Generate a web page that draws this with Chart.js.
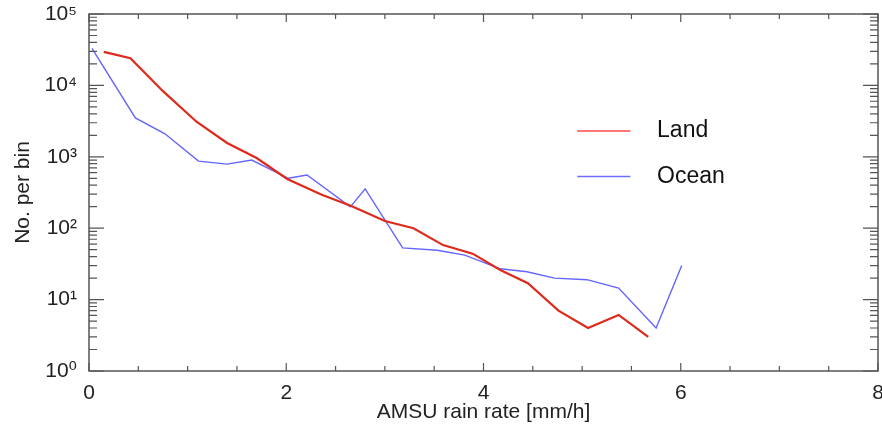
<!DOCTYPE html>
<html>
<head>
<meta charset="utf-8">
<script src="https://cdn.jsdelivr.net/npm/chart.js@4/dist/chart.umd.min.js"></script>
<style>
  html, body { margin: 0; padding: 0; background: #fff; overflow: hidden; }
  #wrap { width: 882px; height: 431px; }
</style>
</head>
<body>
<div id="wrap"><canvas id="c" width="882" height="431"></canvas></div>
<script>
// ---- data ----
const landX  = [0.15, 0.42, 0.75, 1.09, 1.40, 1.70, 2.01, 2.36, 2.66, 3.00, 3.29, 3.59, 3.89, 4.17, 4.45, 4.76, 5.06, 5.37, 5.67];
const landY  = [29500, 24000, 8300, 3100, 1560, 960, 490, 295, 204, 126, 100, 58, 44, 26, 17, 7, 4, 6.1, 3];
const oceanX = [0.03, 0.47, 0.77, 1.11, 1.40, 1.65, 2.02, 2.21, 2.65, 2.80, 3.18, 3.53, 3.81, 4.17, 4.44, 4.72, 5.05, 5.37, 5.75, 6.01];
const oceanY = [33000, 3500, 2100, 870, 790, 900, 500, 556, 199, 355, 53, 49, 42, 27, 24.5, 20, 19, 14.5, 4, 30];
const xTicks = [0, 2, 4, 6, 8];
const yTicks = [1, 10, 100, 1000, 10000, 100000];
const seriesNames = ['Land', 'Ocean'];
const xTitle = 'AMSU rain rate [mm/h]';
const yTitle = 'No. per bin';

const sup = {'0':'⁰','1':'¹','2':'²','3':'³','4':'⁴','5':'⁵','6':'⁶','7':'⁷','8':'⁸','9':'⁹'};
const FONT = "'Liberation Sans', Arial, 'DejaVu Sans', sans-serif";

const toPts = (xs, ys) => xs.map((x, i) => ({x: x, y: ys[i]}));

const frameTicks = {
  id: 'frameTicks',
  afterDraw(chart) {
    const {ctx, chartArea: a, scales: {x, y}} = chart;
    ctx.save();
    ctx.strokeStyle = '#555';
    ctx.lineWidth = 1.5;
    ctx.strokeRect(a.left, a.top, a.right - a.left, a.bottom - a.top);
    ctx.lineWidth = 1.2;
    ctx.beginPath();
    // x ticks (bottom and top), major every 2, minor every 0.5
    for (let v = 0; v <= 8.0001; v += 0.5) {
      const px = x.getPixelForValue(v);
      const len = (Math.abs(v / 2 - Math.round(v / 2)) < 1e-6) ? 8 : 5;
      ctx.moveTo(px, a.bottom); ctx.lineTo(px, a.bottom - len);
      ctx.moveTo(px, a.top); ctx.lineTo(px, a.top + len);
    }
    // y ticks (left and right)
    for (let d = 0; d <= 5; d++) {
      for (let m = 1; m <= 9; m++) {
        const v = m * Math.pow(10, d);
        if (v > 100000) break;
        const py = y.getPixelForValue(v);
        const len = m === 1 ? 15 : 8;
        ctx.moveTo(a.left, py); ctx.lineTo(a.left + len, py);
        ctx.moveTo(a.right, py); ctx.lineTo(a.right - len, py);
      }
    }
    ctx.stroke();

    // legend inside the plot
    const colors = ['#ff7777', '#6f6fff'];
    const widths = [2, 1.3];
    const yVals = [2300, 530];
    ctx.font = '23px ' + FONT;
    ctx.textBaseline = 'middle';
    ctx.fillStyle = '#111';
    seriesNames.forEach((name, i) => {
      const py = y.getPixelForValue(yVals[i]);
      const x0 = x.getPixelForValue(4.95), x1 = x.getPixelForValue(5.49);
      ctx.strokeStyle = colors[i];
      ctx.lineWidth = widths[i];
      ctx.beginPath(); ctx.moveTo(x0, py); ctx.lineTo(x1, py); ctx.stroke();
      ctx.fillText(name, x.getPixelForValue(5.76), py);
    });
    ctx.restore();
  }
};

new Chart(document.getElementById('c'), {
  type: 'line',
  data: {
    datasets: [
      { label: seriesNames[0], data: toPts(landX, landY), borderColor: '#dd2a1a', borderWidth: 2.2, pointRadius: 0, tension: 0, fill: false },
      { label: seriesNames[1], data: toPts(oceanX, oceanY), borderColor: '#6464ff', borderWidth: 1.4, pointRadius: 0, tension: 0, fill: false }
    ]
  },
  options: {
    responsive: false,
    animation: false,
    devicePixelRatio: 1,
    layout: { padding: { left: 0, right: 4, top: 14, bottom: 0 } },
    plugins: { legend: { display: false }, tooltip: { enabled: false } },
    scales: {
      x: {
        type: 'linear', min: 0, max: 8,
        afterBuildTicks: s => { s.ticks = xTicks.map(v => ({value: v})); },
        afterFit: s => { s.height = 60; s.paddingLeft = 0; s.paddingRight = 0; },
        grid: { display: false }, border: { display: false },
        ticks: { color: '#222', font: { family: FONT, size: 21 }, padding: 2, maxRotation: 0, autoSkip: false },
        title: { display: true, text: xTitle, color: '#222', font: { family: FONT, size: 21 }, padding: { top: 0, bottom: 6 } }
      },
      y: {
        type: 'logarithmic', min: 1, max: 100000,
        afterBuildTicks: s => { s.ticks = yTicks.map(v => ({value: v})); },
        afterFit: s => { s.width = 89; s.paddingTop = 0; s.paddingBottom = 0; },
        grid: { display: false }, border: { display: false },
        ticks: {
          color: '#222', font: { family: FONT, size: 21 }, padding: 4, autoSkip: false,
          callback: v => '10' + String(Math.round(Math.log10(v))).split('').map(c => sup[c]).join('')
        },
        title: { display: true, text: yTitle, color: '#222', font: { family: FONT, size: 21 }, padding: { top: 11, bottom: 0 } }
      }
    }
  },
  plugins: [frameTicks]
});
</script>
</body>
</html>
